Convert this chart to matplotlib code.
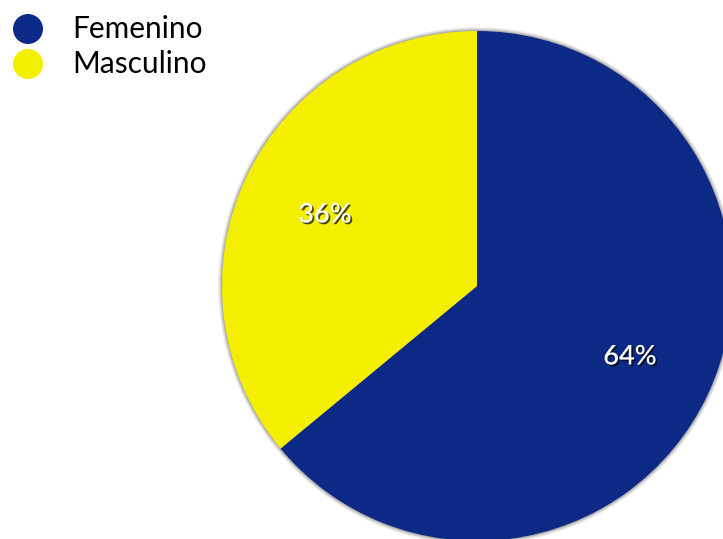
import matplotlib
matplotlib.use("Agg")
import matplotlib.pyplot as plt
import matplotlib.patheffects as pe
from matplotlib.patches import Circle

categories = ["Femenino", "Masculino"]
values = [64, 36]
labels = ["64%", "36%"]
colors = ["#0C2A85", "#F4EE00"]

W, H = 723, 539
fig = plt.figure(figsize=(W / 100, H / 100), dpi=100)
ax = fig.add_axes([0, 0, 1, 1])

cx, cy, r = 477, H - 286, 255

# soft shadow around the pie
for k, a in [(4.0, 0.05), (3.0, 0.07), (2.0, 0.10), (1.0, 0.14)]:
    ax.add_patch(Circle((cx, cy), r + k, facecolor="black", edgecolor="none", alpha=a))

wedges, _ = ax.pie(values, colors=colors, startangle=90, counterclock=False,
                   center=(cx, cy), radius=r, frame=True,
                   wedgeprops=dict(linewidth=0))
ax.set_xlim(0, W)
ax.set_ylim(0, H)
ax.set_aspect("equal")
ax.axis("off")

label_pos = [(630, H - 357), (325, H - 215)]
for (x, y), t in zip(label_pos, labels):
    ax.text(x, y, t, ha="center", va="center", color="white", fontsize=19.5,
            family="Lato", fontweight="semibold",
            path_effects=[pe.withSimplePatchShadow(offset=(1.2, -1.2), shadow_rgbFace="black", alpha=0.7)])

# legend
for i, (c, col) in enumerate(zip(categories, colors)):
    y = H - (29 + 35 * i)
    ax.add_patch(Circle((28, y), 15, facecolor=col, edgecolor="none", clip_on=False))
    ax.text(72, y, c, ha="left", va="center", fontsize=21.5, family="Lato", color="black")

fig.savefig("out.png", dpi=100)
